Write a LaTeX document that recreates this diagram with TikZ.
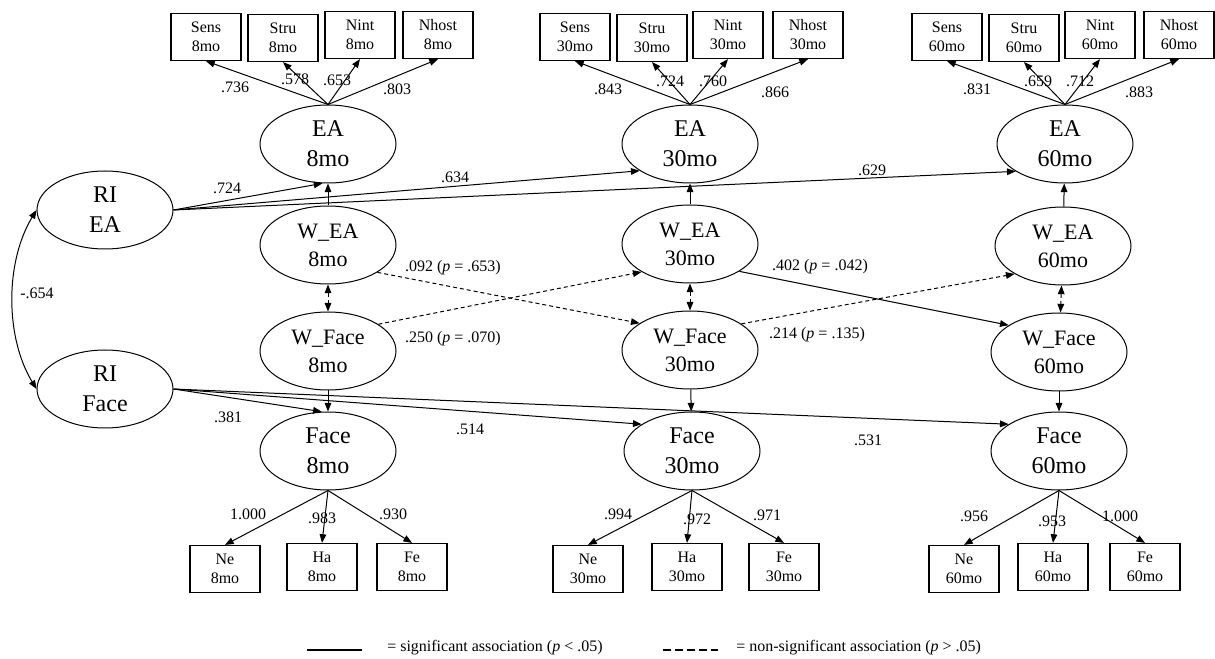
\documentclass[tikz,border=0pt]{standalone}
\usepackage{fontspec}
\setmainfont{Liberation Serif}
\usetikzlibrary{shapes.geometric,arrows.meta}

\begin{document}
\begin{tikzpicture}[x=0.75pt,y=0.75pt,yscale=-1,xscale=1,
  lat/.style={draw,ellipse,line width=0.75pt,inner sep=0pt,minimum width=102pt,minimum height=58.5pt,align=center,font=\fontsize{18}{22.5}\selectfont},
  wlat/.style={lat,font=\fontsize{16.5}{21}\selectfont},
  obs/.style={draw,line width=0.9pt,inner sep=0pt,minimum width=52.5pt,minimum height=35.25pt,align=center,font=\fontsize{12}{14.25}\selectfont},
  lbl/.style={inner sep=0.75pt,font=\fontsize{12}{14}\selectfont},
  arr/.style={-{Triangle[length=6.5pt,width=5pt]},line width=0.75pt},
  ns/.style={arr,dash pattern=on 3pt off 2.25pt},
  cov/.style={{Triangle[length=6.5pt,width=5pt]}-{Triangle[length=6.5pt,width=5pt]},line width=0.75pt}]
\useasboundingbox (0,0) rectangle (1215,659);

%Random intercepts
\node[lat] (riea) at (105,210) {RI\\EA};
\node[lat] (riface) at (105,389) {RI\\Face};

%Latent variables 8mo
\node[lat] (ea8) at (328,144) {EA\\8mo};
\node[wlat] (wea8) at (328,245) {W\_EA\\8mo};
\node[wlat] (wface8) at (328,351) {W\_Face\\8mo};
\node[lat] (face8) at (328,451) {Face\\8mo};
%Latent variables 30mo
\node[lat] (ea30) at (690,144) {EA\\30mo};
\node[wlat] (wea30) at (690,244) {W\_EA\\30mo};
\node[wlat] (wface30) at (690,350) {W\_Face\\30mo};
\node[lat] (face30) at (692,451) {Face\\30mo};
%Latent variables 60mo
\node[lat] (ea60) at (1065,144) {EA\\60mo};
\node[wlat] (wea60) at (1063,246) {W\_EA\\60mo};
\node[wlat] (wface60) at (1059,352) {W\_Face\\60mo};
\node[lat] (face60) at (1059,451) {Face\\60mo};

%Indicators EA
\node[obs] (sens8) at (206,37) {Sens\\8mo};
\node[obs] (stru8) at (283,38) {Stru\\8mo};
\node[obs] (nint8) at (360,35) {Nint\\8mo};
\node[obs] (nhost8) at (438,35) {Nhost\\8mo};
\node[obs] (sens30) at (575,37) {Sens\\30mo};
\node[obs] (stru30) at (652,38) {Stru\\30mo};
\node[obs] (nint30) at (728,35) {Nint\\30mo};
\node[obs] (nhost30) at (808,35) {Nhost\\30mo};
\node[obs] (sens60) at (947,37) {Sens\\60mo};
\node[obs] (stru60) at (1024,38) {Stru\\60mo};
\node[obs] (nint60) at (1100,35) {Nint\\60mo};
\node[obs] (nhost60) at (1179,35) {Nhost\\60mo};

%Indicators Face
\node[obs] (ne8) at (225,569) {Ne\\8mo};
\node[obs] (ha8) at (322,567) {Ha\\8mo};
\node[obs] (fe8) at (412,567) {Fe\\8mo};
\node[obs] (ne30) at (588,569) {Ne\\30mo};
\node[obs] (ha30) at (687,567) {Ha\\30mo};
\node[obs] (fe30) at (784,567) {Fe\\30mo};
\node[obs] (ne60) at (964,569) {Ne\\60mo};
\node[obs] (ha60) at (1053,567) {Ha\\60mo};
\node[obs] (fe60) at (1145,567) {Fe\\60mo};

%Loadings
\draw[arr] (ea8.north) -- (sens8.south);
\draw[arr] (ea8.north) -- (stru8.south);
\draw[arr] (ea8.north) -- (nint8.south);
\draw[arr] (ea8.north) -- (nhost8.south);
\draw[arr] (ea30.north) -- (sens30.south);
\draw[arr] (ea30.north) -- (stru30.south);
\draw[arr] (ea30.north) -- (nint30.south);
\draw[arr] (ea30.north) -- (nhost30.south);
\draw[arr] (ea60.north) -- (sens60.south);
\draw[arr] (ea60.north) -- (stru60.south);
\draw[arr] (ea60.north) -- (nint60.south);
\draw[arr] (ea60.north) -- (nhost60.south);
\draw[arr] (face8.south) -- (ne8.north);
\draw[arr] (face8.south) -- (ha8.north);
\draw[arr] (face8.south) -- (fe8.north);
\draw[arr] (face30.south) -- (ne30.north);
\draw[arr] (face30.south) -- (ha30.north);
\draw[arr] (face30.south) -- (fe30.north);
\draw[arr] (face60.south) -- (ne60.north);
\draw[arr] (face60.south) -- (ha60.north);
\draw[arr] (face60.south) -- (fe60.north);

%Random intercept paths
\draw[arr] (riea.east) -- (ea8.-98);
\draw[arr] (riea.east) -- (ea30.208);
\draw[arr] (riea.east) -- (ea60.209);
\draw[arr] (riface.east) -- (face8.99);
\draw[arr] (riface.east) -- (face30.152);
\draw[arr] (riface.east) -- (face60.152);
\draw[cov] (riea.west) .. controls (5,262) and (5,337) .. (riface.west);

%Within paths
\draw[arr] (wea8) -- (ea8);
\draw[arr] (wea30) -- (ea30);
\draw[arr] (wea60) -- (ea60);
\draw[arr] (wface8) -- (face8);
\draw[arr] (wface30) -- (face30);
\draw[arr] (wface60) -- (face60);
\draw[cov,dash pattern=on 3pt off 2.25pt] (wea8) -- (wface8);
\draw[cov,dash pattern=on 3pt off 2.25pt] (wea30) -- (wface30);
\draw[cov,dash pattern=on 3pt off 2.25pt] (wea60) -- (wface60);

%Cross-lagged paths
\draw[ns] (wea8.-29) -- (wface30.152);
\draw[ns] (wface8.28) -- (wea30.210);
\draw[arr] (wea30.-29) -- (wface60.152);
\draw[ns] (wface30.27) -- (wea60.210);

% Text Node
\node[lbl] (l1) at (235,87) {.736};
\node[lbl] (l2) at (295,79) {.578};
\node[lbl] (l3) at (337,80) {.653};
\node[lbl] (l4) at (397,89) {.803};
\node[lbl] (l5) at (608,89) {.843};
\node[lbl] (l6) at (670,81) {.724};
\node[lbl] (l7) at (713,81) {.760};
\node[lbl] (l8) at (775,92) {.866};
\node[lbl] (l9) at (977,89) {.831};
\node[lbl] (l10) at (1038,81) {.659};
\node[lbl] (l11) at (1080,81) {.712};
\node[lbl] (l12) at (1139,92) {.883};
% Text Node
\node[lbl] (r1) at (227,188) {.724};
\node[lbl] (r2) at (455,177) {.634};
\node[lbl] (r3) at (872,170) {.629};
\node[lbl] (r4) at (228,417) {.381};
\node[lbl] (r5) at (470,429) {.514};
\node[lbl] (r6) at (868,440) {.531};
\node[lbl] (r7) at (37,293) {-.654};
% Text Node
\node[lbl] (c1) at (453,268) {.092 (\textit{p} = .653)};
\node[lbl] (c2) at (453,339) {.250 (\textit{p} = .070)};
\node[lbl] (c3) at (820,267) {.402 (\textit{p} = .042)};
\node[lbl] (c4) at (817,335) {.214 (\textit{p} = .135)};
% Text Node
\node[lbl] (f1) at (248,514) {1.000};
\node[lbl] (f2) at (322,518) {.983};
\node[lbl] (f3) at (393,514) {.930};
\node[lbl] (f4) at (618,514) {.994};
\node[lbl] (f5) at (697,519) {.972};
\node[lbl] (f6) at (767,515) {.971};
\node[lbl] (f7) at (974,516) {.956};
\node[lbl] (f8) at (1052,521) {.953};
\node[lbl] (f9) at (1120,516) {1.000};

%Legend
\coordinate (sigA) at (307,650);
\coordinate (sigB) at (362,650);
\coordinate (nsA) at (663,650);
\coordinate (nsB) at (718,650);
\draw[line width=2pt] (sigA) -- (sigB);
\draw[line width=2pt,dash pattern=on 6pt off 3pt] (nsA) -- (nsB);
\node[lbl,anchor=west] (sigtxt) at (386,648) {= significant association (\textit{p} < .05)};
\node[lbl,anchor=west] (nstxt) at (735,648) {= non-significant association (\textit{p} > .05)};
\end{tikzpicture}
\end{document}
